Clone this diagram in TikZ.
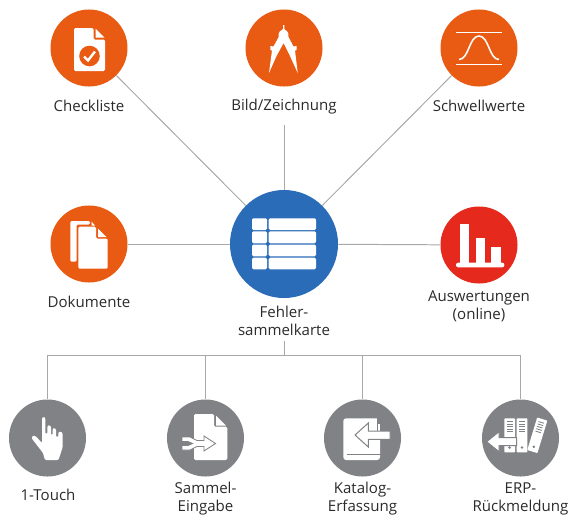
\documentclass[tikz,border=0pt]{standalone}
\usepackage{fontspec}
\setmainfont{Open Sans}
\definecolor{FKorange}{HTML}{E95B13}
\definecolor{FKred}{HTML}{E52A1D}
\definecolor{FKblue}{HTML}{2B6CB8}
\definecolor{FKgray}{HTML}{808285}
\definecolor{FKline}{HTML}{A8A8A8}
\definecolor{FKtext}{HTML}{2B2B2B}
\tikzset{
   dot/.style={circle, minimum size=1.925cm, inner sep=0pt},
   orangedot/.style={dot, fill=FKorange},
   reddot/.style={dot, fill=FKred},
   graydot/.style={dot, fill=FKgray},
   bluedot/.style={circle, minimum size=2.7cm, inner sep=0pt, fill=FKblue},
   caption/.style={text=FKtext, align=center, inner sep=0pt, font=\fontsize{10.7}{12.8}\selectfont},
   link/.style={FKline, line width=0.7pt},
}

\begin{document}
\begin{tikzpicture}[x=0.025cm, y=-0.025cm]
      \useasboundingbox (0,0) rectangle (580,529);
      % Circles
      \node[orangedot] (check) at (89,48) {};
      \node[orangedot] (bild) at (284,48) {};
      \node[orangedot] (schwell) at (479,48) {};
      \node[orangedot] (doku) at (89,244) {};
      \node[bluedot] (karte) at (284,244) {};
      \node[reddot] (ausw) at (479,245) {};
      \node[graydot] (touch) at (47.5,438) {};
      \node[graydot] (sammel) at (205.5,438) {};
      \node[graydot] (katalog) at (362.5,438) {};
      \node[graydot] (erp) at (520.5,438) {};
      % Labels
      \node[caption] (checktext) at (89,105.5) {Checkliste};
      \node[caption] (bildtext) at (284,107) {Bild/Zeichnung};
      \node[caption] (schwelltext) at (479,105.5) {Schwellwerte};
      \node[caption] (dokutext) at (89,302) {Dokumente};
      \node[caption] (kartetext) at (284,321) {Fehler-\\sammelkarte};
      \node[caption] (auswtext) at (479,306) {Auswertungen\\(online)};
      \node[caption] (touchtext) at (48,495) {1-Touch};
      \node[caption] (sammeltext) at (205.5,499) {Sammel-\\Eingabe};
      \node[caption] (katalogtext) at (362.5,499) {Katalog-\\Erfassung};
      \node[caption] (erptext) at (520.5,499) {ERP-\\Rückmeldung};
      % Connectors
      \coordinate (bildend) at (284,125);
      \draw[link] (karte) -- (check);
      \draw[link] (karte) -- (bildend);
      \draw[link] (karte) -- (schwell);
      \draw[link] (karte) -- (doku);
      \draw[link] (karte) -- (ausw);
      % Bus below the card
      \coordinate (trunk) at (284,341);
      \coordinate (busmid) at (284,355.5);
      \draw[link] (trunk) -- (busmid);
      \draw[link] (touch) |- (busmid);
      \draw[link] (sammel) |- (busmid);
      \draw[link] (katalog) |- (busmid);
      \draw[link] (erp) |- (busmid);
      % Checklist icon
      \fill[white, rounded corners=1pt] (74,28) -- (93.5,28) -- (93.5,39.5) -- (105,39.5) -- (105,71) -- (74,71) -- cycle;
      \fill[white] (95.5,28.5) -- (104.5,37.5) -- (95.5,37.5) -- cycle;
      \fill[FKorange] (89.5,56) circle (10.3);
      \draw[white, line width=1.7pt] (84,56.5) -- (88,60.5) -- (95,51.5);
      % Compass icon
      \fill[white] (283,25) -- (284.3,25) -- (284.3,29) .. controls (287,30) and (289,33) .. (288.5,37) -- (293.5,46.5) -- (296.5,46) -- (296.5,50) -- (295,50.5) -- (297.7,73) -- (290,56) -- (283.6,43) -- (276.5,56) -- (269,73) -- (272,50.5) -- (270.3,50) -- (270.3,46) -- (273.5,46.5) -- (278.7,37) .. controls (278,33) and (280,30) .. (283,29) -- cycle;
      % Threshold icon
      \draw[white, line width=1.1pt] (456,32.3) -- (501.7,32.3);
      \draw[white, line width=1.1pt] (456,64.3) -- (501.7,64.3);
      \draw[white, line width=1.1pt] (459,59.5) .. controls (469,59.5) and (469,36) .. (479,36) .. controls (489,36) and (489,59.5) .. (499,59.5);
      % Documents icon
      \fill[white, rounded corners=1pt] (70.3,221) -- (90,221) -- (90,224.5) -- (76.5,224.5) -- (76.5,261.7) -- (70.3,261.7) -- cycle;
      \fill[white, rounded corners=1pt] (78.3,226.7) -- (96,226.7) -- (96,238.5) -- (107.7,238.5) -- (107.7,268.7) -- (78.3,268.7) -- cycle;
      \fill[white] (98,228.5) -- (106.5,237) -- (98,237) -- cycle;
      \fill[white] (91.5,221.5) -- (95,225.5) -- (91.5,225.5) -- cycle;
      % Table icon
      \foreach \rowtop/\rowbot in {218.3/230, 231.3/243.3, 244.5/256.3, 257.7/269.3}{
         \fill[white, rounded corners=1pt] (252,\rowtop) rectangle (267,\rowbot);
         \fill[white, rounded corners=1pt] (268.7,\rowtop) rectangle (316,\rowbot);
      }
      % Chart icon
      \fill[white] (459.7,223.7) rectangle (469.3,264);
      \fill[white] (475.7,237.7) rectangle (485.3,264);
      \fill[white] (490.7,247) rectangle (500.7,264);
      \fill[white, rounded corners=1.5pt] (456,262.7) rectangle (504.3,267.3);
      % Hand icon
      \fill[white, rounded corners=0.8pt] (42,418) -- (43.5,416.5) -- (45.3,418) -- (45.5,434) -- (47.3,434) -- (47.3,426) -- (49,425) -- (51,426) -- (51,435) -- (52.7,435) -- (52.7,428.5) -- (54.5,428) -- (56,429) -- (56,437) -- (58.3,437) -- (58.3,432) -- (60.5,431.5) -- (62.7,433) -- (62.7,447) -- (58.5,460) -- (45,460) -- (43,453) -- (31.5,438) -- (33,435.5) -- (35.5,436) -- (42,443) -- cycle;
      % Collective entry icon
      \fill[white, rounded corners=1pt] (194,414) -- (214,414) -- (214,426.7) -- (227.3,426.7) -- (227.3,460) -- (194,460) -- cycle;
      \fill[white] (216,415.5) -- (226,425.5) -- (216,425.5) -- cycle;
      \filldraw[fill=white, draw=FKgray, line width=0.6pt] (182,437) -- (190,437) -- (197,440.5) -- (204,440.5) -- (204,436) -- (215.5,443.5) -- (204,451) -- (204,446.5) -- (197,446.5) -- (190,450) -- (182,450) -- (182,445.5) -- (188,445.5) -- (192.5,443.5) -- (188,441.5) -- (182,441.5) -- cycle;
      % Catalog icon
      \fill[white, rounded corners=2pt] (343.3,418.3) -- (380,418.3) -- (380,460) -- (343.3,460) -- cycle;
      \draw[FKgray, line width=1pt] (346.7,454.3) -- (380.5,454.3);
      \fill[FKgray] (376.5,417) rectangle (381,431);
      \fill[white] (378,424) rectangle (380,431);
      \filldraw[fill=white, draw=FKgray, line width=0.7pt] (390,431) -- (368.3,431) -- (368.3,423) -- (355,435) -- (368.3,447) -- (368.3,439.3) -- (390,439.3) -- cycle;
      % Binder icon
      \foreach \bindleft in {504.3,516.7}{
         \fill[white, rounded corners=0.5pt] (\bindleft,418.3) rectangle ++(10.7,34);
         \foreach \stripe in {421.5,424,...,432}{
            \draw[FKgray, line width=0.6pt] (\bindleft+2.5,\stripe) -- ++(5.7,0);
         }
         \fill[FKgray] (\bindleft+5.3,447.5) circle (1.4);
      }
      \begin{scope}[shift={(537.3,435.3)}, rotate=-17]
         \fill[white, rounded corners=0.5pt] (-5.3,-17) rectangle (5.3,17);
         \foreach \stripe in {-13.5,-11,...,-3}{
            \draw[FKgray, line width=0.6pt] (-2.9,\stripe) -- ++(5.7,0);
         }
         \fill[FKgray] (0,12) circle (1.4);
      \end{scope}
      \filldraw[fill=white, draw=FKgray, line width=0.7pt] (516.7,437.7) -- (499,437.7) -- (499,431.7) -- (486.7,441.7) -- (499,451.7) -- (499,445.7) -- (516.7,445.7) -- cycle;
   \end{tikzpicture}
\end{document}
